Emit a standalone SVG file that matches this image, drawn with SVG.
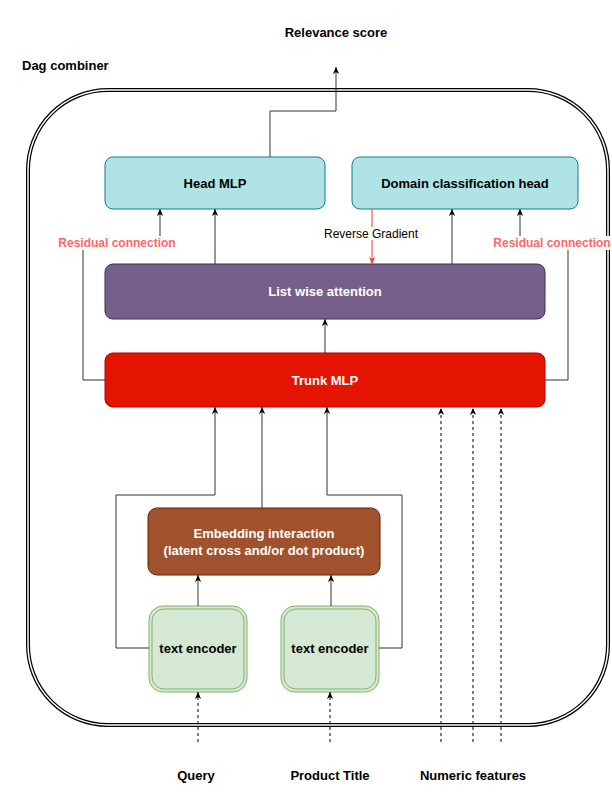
<svg xmlns="http://www.w3.org/2000/svg" width="612" height="809" viewBox="0 0 612 809">
<style>
text{font-family:"Liberation Sans",Arial,Helvetica,sans-serif;font-size:13px;text-anchor:middle}
.b{font-weight:bold}
.w{fill:#ffffff}
.k{fill:#000000}
.s{font-size:12px}
.rl{fill:#ff6666;font-weight:bold;font-size:12px}
.e{fill:none;stroke:#333333;stroke-width:1}
.d{fill:none;stroke:#000000;stroke-width:1;stroke-dasharray:3,3}
.bg{fill:#ffffff}
</style>
<defs>
<marker id="ar" viewBox="0 0 10 10" refX="10" refY="5" markerWidth="7" markerHeight="7" markerUnits="userSpaceOnUse" orient="auto">
<path d="M0,0.5 L10,5 L0,9.5 L3,5 z" fill="#000000"/>
</marker>
<marker id="arr" viewBox="0 0 10 10" refX="10" refY="5" markerWidth="7" markerHeight="7" markerUnits="userSpaceOnUse" orient="auto">
<path d="M0,0.5 L10,5 L0,9.5 L3,5 z" fill="#ff3333"/>
</marker>
</defs>
<rect width="612" height="809" fill="#ffffff"/>

<g id="dag-combiner">
<rect x="28" y="90" width="580" height="635" rx="80" ry="80" fill="none" stroke="#000000" stroke-width="4"/>
<rect x="28" y="90" width="580" height="635" rx="80" ry="80" fill="none" stroke="#ffffff" stroke-width="1.5"/>
<text class="b k" x="22" y="70" style="text-anchor:start">Dag combiner</text>
</g>

<g id="relevance-score"><text class="b k" x="336" y="37">Relevance score</text></g>

<g id="head-mlp">
<rect x="105" y="157" width="220" height="52" rx="8" fill="#b0e3e6" stroke="#0e8088"/>
<text class="b k" x="215" y="187.5">Head MLP</text>
</g>

<g id="domain-head">
<rect x="352" y="157" width="226" height="52" rx="8" fill="#b0e3e6" stroke="#0e8088"/>
<text class="b k" x="465" y="187.5">Domain classification head</text>
</g>

<g id="list-attention">
<rect x="105" y="264" width="440" height="55" rx="8" fill="#76608a" stroke="#432d57"/>
<text class="b w" x="325" y="296">List wise attention</text>
</g>

<g id="trunk-mlp">
<rect x="105" y="353" width="440" height="54" rx="8" fill="#e51400" stroke="#b20000"/>
<text class="b w" x="325" y="384.5">Trunk MLP</text>
</g>

<g id="embedding-interaction">
<rect x="148" y="508" width="232" height="67" rx="9" fill="#a0522d" stroke="#6d1f00"/>
<text class="b w" x="264" y="538">Embedding interaction</text>
<text class="b w" x="264" y="555">(latent cross and/or dot product)</text>
</g>

<g id="text-encoder-query">
<rect x="149" y="606" width="98" height="86" rx="14" fill="#d5e8d4" stroke="#82b366"/>
<rect x="152" y="609" width="92" height="80" rx="12" fill="#d5e8d4" stroke="#82b366"/>
<text class="b k" x="198" y="653">text encoder</text>
</g>

<g id="text-encoder-title">
<rect x="281" y="606" width="98" height="86" rx="14" fill="#d5e8d4" stroke="#82b366"/>
<rect x="284" y="609" width="92" height="80" rx="12" fill="#d5e8d4" stroke="#82b366"/>
<text class="b k" x="330" y="653">text encoder</text>
</g>

<g id="inputs">
<text class="b k" x="196" y="780">Query</text>
<text class="b k" x="330" y="780">Product Title</text>
<text class="b k" x="473" y="780">Numeric features</text>
</g>

<g id="connectors">
<path class="e" d="M270,157 V111 H336 V67" marker-end="url(#ar)"/>
<path class="e" d="M215,264 V209" marker-end="url(#ar)"/>
<path class="e" d="M452,264 V209" marker-end="url(#ar)"/>
<path class="e" d="M325,353 V319" marker-end="url(#ar)"/>
<path class="e" d="M105,380 H83 V243 H160 V209" marker-end="url(#ar)"/>
<path class="e" d="M545,380 H568 V243 H520 V209" marker-end="url(#ar)"/>
<path d="M372,209 V264" fill="none" stroke="#ff3333" stroke-width="1" marker-end="url(#arr)"/>
<path class="e" d="M262,508 V407" marker-end="url(#ar)"/>
<path class="e" d="M149,648 H116 V495 H215 V407" marker-end="url(#ar)"/>
<path class="e" d="M379,648 H402 V495 H327 V407" marker-end="url(#ar)"/>
<path class="e" d="M198,606 V575" marker-end="url(#ar)"/>
<path class="e" d="M331,606 V575" marker-end="url(#ar)"/>
<path class="d" d="M198,742 V692" marker-end="url(#ar)"/>
<path class="d" d="M330,742 V692" marker-end="url(#ar)"/>
<path class="d" d="M441,742 V408" marker-end="url(#ar)"/>
<path class="d" d="M473,742 V408" marker-end="url(#ar)"/>
<path class="d" d="M501,742 V408" stroke="#888888" marker-end="url(#ar)"/>
<rect class="bg" x="57" y="236" width="120" height="14"/>
<text class="rl" x="117" y="247">Residual connection</text>
<rect class="bg" x="493" y="236" width="119" height="14"/>
<text class="rl" x="552" y="247">Residual connection</text>
<rect class="bg" x="323" y="227" width="96" height="13"/>
<text class="k s" x="371" y="238">Reverse Gradient</text>
</g>
</svg>
